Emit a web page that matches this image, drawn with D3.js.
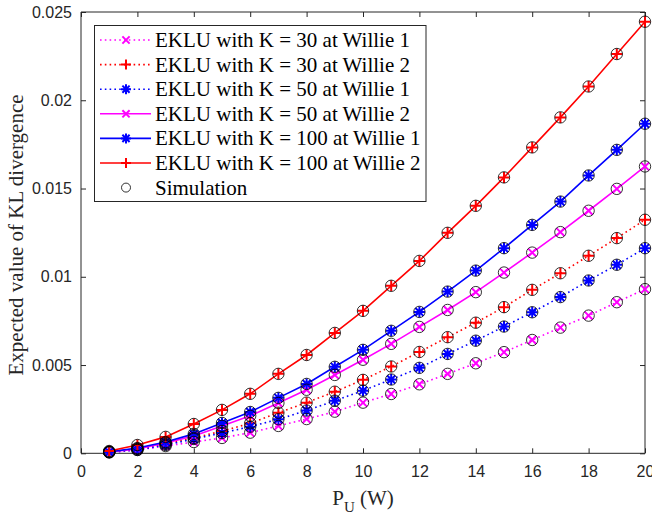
<!DOCTYPE html>
<html><head><meta charset="utf-8">
<script src="https://cdn.jsdelivr.net/npm/d3@7"></script>
<style>body{margin:0;background:#fff}svg{display:block}</style>
</head><body><svg id="c" width="652" height="514"></svg>
<script>
const powers = [1,2,3,4,5,6,7,8,9,10,11,12,13,14,15,16,17,18,19,20];
const k30w1 = [0.00005,0.00019,0.00041,0.00064,0.00087,0.00117,0.00155,0.00194,0.00236,0.00287,0.00336,0.00391,0.00450,0.00510,0.00573,0.00642,0.00712,0.00780,0.00856,0.00930];
const k30w2 = [0.00007,0.00025,0.00053,0.00087,0.00126,0.00170,0.00230,0.00287,0.00349,0.00416,0.00492,0.00574,0.00658,0.00740,0.00828,0.00926,0.01020,0.01119,0.01219,0.01323];
const k50w1 = [0.00006,0.00019,0.00047,0.00081,0.00115,0.00151,0.00193,0.00242,0.00298,0.00355,0.00418,0.00484,0.00563,0.00638,0.00718,0.00799,0.00885,0.00979,0.01068,0.01162];
const k50w2 = [0.00008,0.00025,0.00059,0.00098,0.00155,0.00212,0.00285,0.00360,0.00444,0.00530,0.00620,0.00716,0.00812,0.00913,0.01024,0.01137,0.01253,0.01374,0.01498,0.01625];
const k100w1 = [0.00008,0.00030,0.00064,0.00110,0.00172,0.00234,0.00314,0.00393,0.00490,0.00586,0.00694,0.00801,0.00916,0.01035,0.01162,0.01294,0.01426,0.01574,0.01719,0.01867];
const k100w2 = [0.00013,0.00047,0.00093,0.00166,0.00246,0.00337,0.00450,0.00557,0.00682,0.00807,0.00949,0.01090,0.01249,0.01402,0.01563,0.01733,0.01903,0.02078,0.02262,0.02445];
const seriesNames = ["EKLU with K = 30 at Willie 1","EKLU with K = 30 at Willie 2","EKLU with K = 50 at Willie 1","EKLU with K = 50 at Willie 2","EKLU with K = 100 at Willie 1","EKLU with K = 100 at Willie 2"];
const simName = "Simulation";
const xTicks = [0,2,4,6,8,10,12,14,16,18,20];
const yTicks = [0,0.005,0.01,0.015,0.02,0.025];
const yTickLabels = ["0","0.005","0.01","0.015","0.02","0.025"];

const series = [
  {name:seriesNames[0], vals:k30w1, color:"#ff00ff", dash:true, marker:"x"},
  {name:seriesNames[1], vals:k30w2, color:"#ff0000", dash:true, marker:"+"},
  {name:seriesNames[2], vals:k50w1, color:"#0000ff", dash:true, marker:"*"},
  {name:seriesNames[3], vals:k50w2, color:"#ff00ff", dash:false, marker:"x"},
  {name:seriesNames[4], vals:k100w1, color:"#0000ff", dash:false, marker:"*"},
  {name:seriesNames[5], vals:k100w2, color:"#ff0000", dash:false, marker:"+"}
];

const serif = "'Liberation Serif', 'Times New Roman', serif";
const sans = "'Liberation Sans', Arial, sans-serif";
const svg = d3.select("#c");
const L=81, R=645, T=12, B=453.3;
const x = d3.scaleLinear().domain([0,20]).range([L,R]);
const y = d3.scaleLinear().domain([0,0.025]).range([B,T]);
const axisCol = "#262626";

const tickLen = 5;
const gx = svg.append("g").attr("transform",`translate(0,${B})`)
  .call(d3.axisBottom(x).tickValues(xTicks).tickSize(-tickLen).tickPadding(12).tickFormat(d3.format("d")));
const gxt = svg.append("g").attr("transform",`translate(0,${T})`)
  .call(d3.axisTop(x).tickValues(xTicks).tickSize(-tickLen).tickFormat(""));
const gy = svg.append("g").attr("transform",`translate(${L},0)`)
  .call(d3.axisLeft(y).tickValues(yTicks).tickSize(-tickLen).tickPadding(9).tickFormat((d,i)=>yTickLabels[i]));
const gyr = svg.append("g").attr("transform",`translate(${R},0)`)
  .call(d3.axisRight(y).tickValues(yTicks).tickSize(-tickLen).tickFormat(""));
[gx,gxt,gy,gyr].forEach(g=>{
  g.select(".domain").attr("stroke",axisCol).attr("stroke-width",1);
  g.selectAll(".tick line").attr("stroke",axisCol).attr("stroke-width",1);
  g.selectAll("text").attr("fill",axisCol).style("font-family",sans).style("font-size","16px");
});
gx.selectAll(".domain").attr("d",`M${L},0H${R}`);
gxt.selectAll(".domain").attr("d",`M${L},0H${R}`);
gy.selectAll(".domain").attr("d",`M0,${B}V${T}`);
gyr.selectAll(".domain").attr("d",`M0,${B}V${T}`);

// labels
svg.append("text").attr("x", x(10)).attr("y", 505).attr("text-anchor","middle")
  .style("font-family",serif).style("font-size","21px").attr("fill",axisCol)
  .html('P<tspan dy="7" font-size="15px">U</tspan><tspan dy="-7"> (W)</tspan>');
svg.append("text").attr("transform",`translate(23,235) rotate(-90)`).attr("text-anchor","middle")
  .style("font-family",serif).style("font-size","21px").attr("fill",axisCol)
  .text("Expected value of KL divergence");

function drawMarker(g, type, cx, cy, s, color){
  const h = s/2;
  let d="";
  const dd = h*0.72;
  if(type==="x") d=`M${cx-dd},${cy-dd}L${cx+dd},${cy+dd}M${cx-dd},${cy+dd}L${cx+dd},${cy-dd}`;
  else if(type==="+") d=`M${cx-h},${cy}L${cx+h},${cy}M${cx},${cy-h}L${cx},${cy+h}`;
  else if(type==="*") d=`M${cx-h},${cy}L${cx+h},${cy}M${cx},${cy-h}L${cx},${cy+h}M${cx-dd},${cy-dd}L${cx+dd},${cy+dd}M${cx-dd},${cy+dd}L${cx+dd},${cy-dd}`;
  g.append("path").attr("d",d).attr("stroke",color).attr("stroke-width",2).attr("fill","none");
}

const plot = svg.append("g");
const line = d3.line().x((d,i)=>x(powers[i])).y(d=>y(d));
series.forEach(s=>{
  plot.append("path").datum(s.vals).attr("d",line).attr("fill","none")
    .attr("stroke",s.color).attr("stroke-width",1.6)
    .attr("stroke-dasharray", s.dash ? "1.6,3.2" : null);
});
series.forEach(s=>{
  s.vals.forEach((v,i)=>{
    drawMarker(plot, s.marker, x(powers[i]), y(v), 11, s.color);
  });
});
series.forEach(s=>{
  plot.selectAll(null).data(s.vals).enter().append("circle")
    .attr("cx",(d,i)=>x(powers[i])).attr("cy",d=>y(d)).attr("r",5.7)
    .attr("fill","none").attr("stroke","#000").attr("stroke-width",0.8);
});

// legend
const lg = svg.append("g");
lg.append("rect").attr("x",94.5).attr("y",25.5).attr("width",331.5).attr("height",176)
  .attr("fill","#fff").attr("stroke",axisCol).attr("stroke-width",1);
const rowY = i => 40 + i*24.6;
series.forEach((s,i)=>{
  const yy = rowY(i);
  lg.append("line").attr("x1",100).attr("x2",151).attr("y1",yy).attr("y2",yy)
    .attr("stroke",s.color).attr("stroke-width",1.6).attr("stroke-dasharray", s.dash ? "1.6,3.2" : null);
  drawMarker(lg, s.marker, 126, yy, 10, s.color);
  lg.append("text").attr("x",155).attr("y",yy).attr("dy","0.33em")
    .style("font-family",serif).style("font-size","21px").attr("fill","#000")
    .text(s.name);
});
lg.append("circle").attr("cx",126).attr("cy",rowY(6)).attr("r",4.5).attr("fill","none").attr("stroke","#000").attr("stroke-width",0.8);
lg.append("text").attr("x",155).attr("y",rowY(6)).attr("dy","0.33em")
  .style("font-family",serif).style("font-size","21px").attr("fill","#000")
  .text(simName);
</script></body></html>
